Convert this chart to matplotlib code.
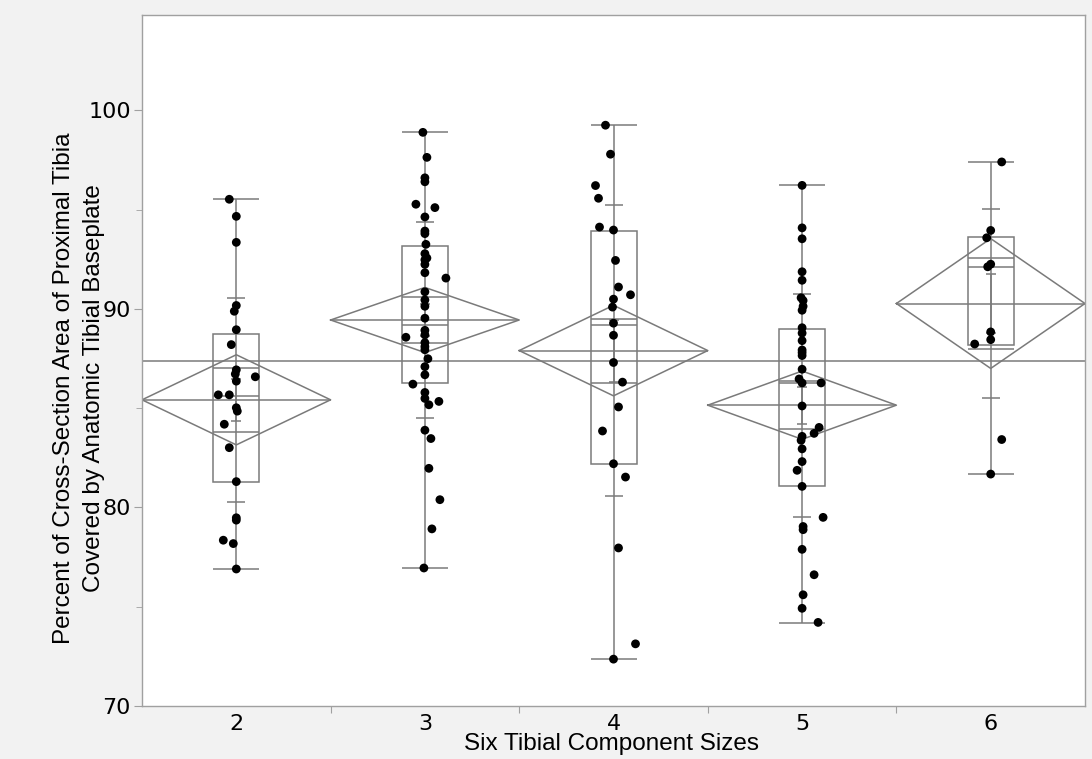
import numpy as np
import matplotlib
matplotlib.use('Agg')
import matplotlib.pyplot as plt
from matplotlib.patches import Rectangle


# tibial component sizes and the coverage values
sizes = ['2', '3', '4', '5', '6']

cover_2 = [95.52, 94.66, 93.35, 90.17, 89.88, 88.95, 88.2, 86.93, 86.72, 86.58, 86.36,
           85.67, 85.67, 85.02, 84.85, 84.19, 83.01, 81.3, 79.48, 79.36, 78.35, 78.18, 76.9]
cover_3 = [98.89, 97.63, 96.6, 96.4, 95.27, 95.1, 94.63, 93.92, 93.79, 93.25, 92.78, 92.56,
           92.47, 92.24, 91.82, 91.55, 90.86, 90.45, 90.13, 89.53, 88.92, 88.69, 88.57, 88.3,
           88.1, 87.94, 87.49, 87.09, 86.68, 86.21, 85.79, 85.49, 85.34, 85.17, 83.89, 83.47,
           81.97, 80.39, 78.92, 76.95]
cover_4 = [99.25, 97.79, 96.21, 95.57, 94.12, 93.97, 92.44, 91.1, 90.71, 90.49, 90.09,
           89.28, 88.67, 87.3, 86.31, 85.06, 83.85, 82.2, 81.53, 77.96, 73.13, 72.36]
cover_5 = [96.22, 94.08, 93.53, 91.87, 91.44, 90.56, 90.42, 90.13, 89.93, 89.05, 88.78,
           88.4, 87.93, 87.8, 87.65, 86.96, 86.47, 86.27, 86.27, 85.11, 84.03, 83.73, 83.58,
           83.38, 82.95, 82.31, 81.87, 81.06, 79.5, 79.04, 78.88, 77.89, 76.61, 75.6, 74.92,
           74.21]
cover_6 = [97.4, 93.95, 93.58, 92.25, 92.12, 88.84, 88.45, 88.23, 83.42, 81.68]

# horizontal jitter of each point (pixels off the group centre)
jitter_2 = [-7, 0, 0, 0, -2, 0, -5, 0, -1, 19, 0, -18, -7, 0, 1, -12, -7, 0, 0, 0, -13, -3, 0]
jitter_3 = [-2, 2, 0, 0, -9, 10, 0, 0, 0, 1, 0, 2, 0, 0, 0, 21, 0, 0, 0, 0,
            0, 0, -19, 0, 0, 0, 3, 0, 0, -12, 0, 0, 14, 4, 0, 6, 4, 15, 7, -1]
jitter_4 = [-8, -3, -18, -15, -14, 0, 2, 5, 17, 0, -1, 0, 0, 0, 9, 5, -11, 0, 12, 5, 22, 0]
jitter_5 = [0, 0, 0, 0, 0, -1, 1, 1, 0, 0, 0, 0, 0, 0, 0, 0, -3, 0, 19, 0,
            17, 12, 0, -1, 0, 0, -5, 0, 21, 1, 1, 0, 12, 1, 0, 16]
jitter_6 = [11, 0, -4, 0, -3, 0, 0, -16, 11, 0]

# summary statistics as drawn (JMP oneway)
whisk_lo = [76.9, 76.95, 72.36, 74.16, 81.68]
whisk_hi = [95.52, 98.89, 99.25, 96.22, 97.4]
q1 = [81.3, 86.28, 82.2, 81.06, 88.2]
median = [85.6, 89.21, 89.2, 86.27, 92.12]
q3 = [88.72, 93.15, 93.92, 89.0, 93.6]
group_mean = [85.42, 89.44, 87.9, 85.15, 90.27]
ci_half = [2.27, 1.64, 2.28, 1.72, 3.27]
std_dev = [5.14, 4.94, 7.33, 5.62, 4.75]
grand_mean = 87.38

groups = [cover_2, cover_3, cover_4, cover_5, cover_6]
jitters = [jitter_2, jitter_3, jitter_4, jitter_5, jitter_6]

GRAY = '#7a7a7a'
LW = 1.1
PX = 1 / 188.6      # one pixel in x data units
box_hw = 23 * PX
sd_hw = 9 * PX
se_hw = 5 * PX

fig = plt.figure(figsize=(10.92, 7.59), dpi=100, facecolor='#f2f2f2')
ax = fig.add_axes([142 / 1092, 1 - 706 / 759, (1085 - 142) / 1092, (706 - 15) / 759])
ax.set_facecolor('white')

ax.axhline(grand_mean, color=GRAY, lw=LW, zorder=2)

for i, vals in enumerate(groups):
    c = i
    m = group_mean[i]
    h = ci_half[i]
    se = std_dev[i] / np.sqrt(len(vals))
    ov = h * np.sqrt(2) / 2

    # whiskers + caps
    ax.vlines(c, whisk_lo[i], whisk_hi[i], color=GRAY, lw=LW, zorder=2)
    ax.hlines([whisk_lo[i], whisk_hi[i]], c - box_hw, c + box_hw, color=GRAY, lw=LW, zorder=2)

    # box and median
    ax.add_patch(Rectangle((c - box_hw, q1[i]), 2 * box_hw, q3[i] - q1[i],
                           fill=False, edgecolor=GRAY, lw=LW, zorder=2))
    ax.hlines(median[i], c - box_hw, c + box_hw, color=GRAY, lw=LW, zorder=2)

    # means diamond, mean line and overlap marks
    ax.plot([c - 0.5, c, c + 0.5, c, c - 0.5], [m, m + h, m, m - h, m],
            color=GRAY, lw=LW, zorder=2)
    ax.hlines(m, c - 0.5, c + 0.5, color=GRAY, lw=LW, zorder=2)
    ax.hlines([m - ov, m + ov], c - box_hw, c + box_hw, color=GRAY, lw=LW, zorder=2)

    # std dev marks
    ax.hlines([m - std_dev[i], m + std_dev[i]], c - sd_hw, c + sd_hw, color=GRAY, lw=LW, zorder=2)

    # mean error bar
    ax.vlines(c, m - se, m + se, color=GRAY, lw=LW, zorder=2)
    ax.hlines([m - se, m + se], c - se_hw, c + se_hw, color=GRAY, lw=LW, zorder=2)

    xs = c + np.array(jitters[i]) * PX
    ax.scatter(xs, vals, s=40, color='black', edgecolors='none', zorder=5)

ax.set_xlim(-0.5, 4.5)
ax.set_ylim(70, 104.8)

ax.set_xticks([0.5, 1.5, 2.5, 3.5])
ax.set_xticklabels([])
ax.set_xticks(range(5), minor=True)
ax.set_xticklabels(sizes, minor=True)
ax.tick_params(axis='x', which='major', length=5, color='#a0a0a0')
ax.tick_params(axis='x', which='minor', length=0, pad=6, labelsize=16)

ax.set_yticks([70, 80, 90, 100])
ax.set_yticks([75, 85, 95], minor=True)
ax.tick_params(axis='y', which='major', length=6, color='#a0a0a0', pad=2, labelsize=16)
ax.tick_params(axis='y', which='minor', length=4, color='#a0a0a0')

for s in ax.spines.values():
    s.set_color('#a0a0a0')
    s.set_linewidth(1.0)

fig.text(79 / 1092, 1 - 388 / 759,
         'Percent of Cross-Section Area of Proximal Tibia\nCovered by Anatomic Tibial Baseplate',
         rotation=90, ha='center', va='center', fontsize=17.5, family='Liberation Sans',
         linespacing=1.45)
fig.text(611 / 1092, 1 - 744 / 759, 'Six Tibial Component Sizes',
         ha='center', va='center', fontsize=17.5, family='Liberation Sans')

fig.savefig('out.png', dpi=100, facecolor=fig.get_facecolor())
